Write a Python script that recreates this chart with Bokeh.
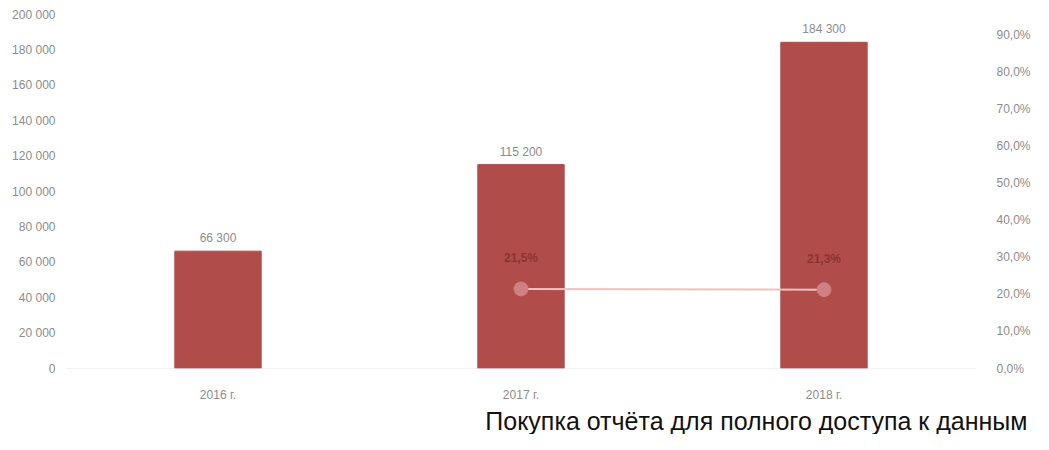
from bokeh.plotting import figure
from bokeh.models import ColumnDataSource, Range1d, LinearAxis, FixedTicker, Title, Span, LabelSet
from bokeh.core.properties import value
from bokeh.embed import file_html
from bokeh.resources import INLINE

# chart data (estimated)
years = ["2016 г.", "2017 г.", "2018 г."]
volume = [66300, 115200, 184300]
share = [float("nan"), 21.5, 21.3]

left_ticks = list(range(0, 200001, 20000))
right_ticks = list(range(0, 91, 10))


def fmt(n):
    return "{:,}".format(n).replace(",", " ")


src = ColumnDataSource(dict(
    years=years,
    volume=volume,
    share=share,
    vol_txt=[fmt(v) for v in volume],
    share_txt=["" if s != s else ("%.1f%%" % s).replace(".", ",") for s in share],
))

p = figure(x_range=years, y_range=Range1d(0, 200000), width=1033, height=434,
           output_backend="svg", toolbar_location=None,
           min_border_left=66, min_border_right=55, min_border_top=14,
           min_border_bottom=0)
p.outline_line_color = None
p.grid.grid_line_color = None

# right axis: 90 % sits a bit below the frame top
p.extra_y_ranges = {"share": Range1d(0, 90 * 356 / 335)}

p.vbar(x="years", top="volume", width=0.285, source=src, color="#B04C4A")

p.line(x="years", y="share", source=src, y_range_name="share",
       color="#F0C0C0", line_width=2)
p.scatter(x="years", y="share", source=src, y_range_name="share",
          size=14, fill_color="#CF8080", line_color="#CF8080")

p.add_layout(Span(location=0, dimension="width", line_color="#e6e6e6", line_width=1))

p.add_layout(LabelSet(x="years", y="volume", text="vol_txt", source=src,
                      text_align="center", y_offset=6, text_font_size="12px",
                      text_color="#8c8c8c", text_font=value("Liberation Sans")))
p.add_layout(LabelSet(x="years", y="share", text="share_txt", source=src,
                      y_range_name="share", text_align="center", y_offset=24,
                      text_font_size="12px", text_color="#8E3432",
                      text_font_style="bold", text_font=value("Liberation Sans")))

p.yaxis.ticker = FixedTicker(ticks=left_ticks)
p.yaxis.major_label_overrides = {t: fmt(t) for t in left_ticks}

right = LinearAxis(y_range_name="share", ticker=FixedTicker(ticks=right_ticks))
right.major_label_overrides = {t: "%d,0%%" % t for t in right_ticks}
right.major_label_standoff = 15
p.add_layout(right, "right")

for ax in p.axis:
    ax.axis_line_color = None
    ax.major_tick_line_color = None
    ax.minor_tick_line_color = None
    ax.major_label_text_color = "#8c8c8c"
    ax.major_label_text_font_size = "12px"
    ax.major_label_text_font = "Liberation Sans"
p.xaxis.major_label_standoff = 13

note = Title(text="Покупка отчёта для полного доступа к данным", align="right",
             text_font="Liberation Sans", text_font_size="25px",
             text_font_style="normal", text_color="#111111", standoff=0,
             offset=-52)
p.add_layout(note, "below")

open("out.html", "w").write(file_html(p, INLINE))
